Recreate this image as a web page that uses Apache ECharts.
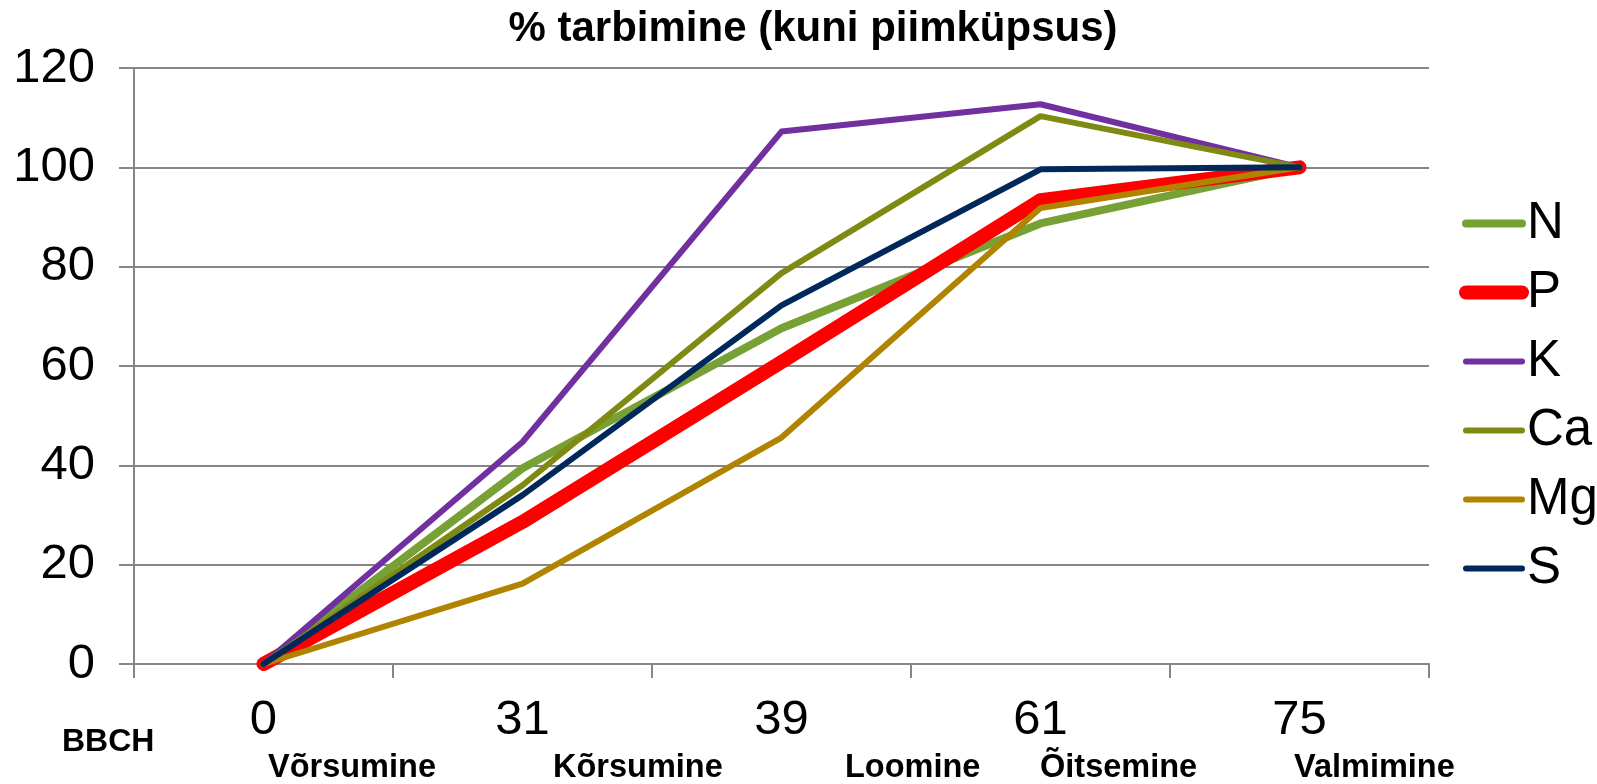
<!DOCTYPE html>
<html>
<head>
<meta charset="utf-8">
<script src="https://cdn.jsdelivr.net/npm/echarts@6/dist/echarts.min.js"></script>
<style>html,body{margin:0;padding:0;background:#fff}#c{width:1597px;height:784px}</style>
</head>
<body>
<div id="c"></div>
<script>
const titleText = '% tarbimine (kuni piimküpsus)';
const categories = ['0', '31', '39', '61', '75'];
const seriesNames = ['N', 'P', 'K', 'Ca', 'Mg', 'S'];
const valuesN  = [0, 39.4, 67.6, 88.7, 100];
const valuesP  = [0, 28.6, 60.8, 93.4, 100];
const valuesK  = [0, 44.7, 107.2, 112.7, 100];
const valuesCa = [0, 36.0, 78.7, 110.3, 100];
const valuesMg = [0, 16.2, 45.6, 91.8, 100];
const valuesS  = [0, 34.0, 72.2, 99.6, 100];
const stageLabel = 'BBCH';
const stageNames = ['Võrsumine', 'Kõrsumine', 'Loomine', 'Õitsemine', 'Valmimine'];

const FONT = "'Liberation Sans', Arial, sans-serif";
const colors = ['#77A135', '#FF0000', '#7030A0', '#7F8A12', '#B08400', '#00285A'];
const widths = [8, 14, 6, 6, 6, 6];
const allValues = [valuesN, valuesP, valuesK, valuesCa, valuesMg, valuesS];

const stageX = [268, 553, 845, 1040, 1294];

const chart = echarts.init(document.getElementById('c'));
chart.setOption({
  animation: false,
  backgroundColor: '#fff',
  title: {
    text: titleText,
    left: 813,
    textAlign: 'center',
    top: 8,
    padding: 0,
    textStyle: { fontFamily: FONT, fontSize: 42, fontWeight: 'bold', color: '#000' }
  },
  grid: { left: 134, right: 168, top: 68, bottom: 120, containLabel: false },
  legend: {
    orient: 'vertical',
    left: 1459,
    top: 198,
    padding: 0,
    itemGap: 18,
    itemWidth: 56,
    itemHeight: 14,
    itemStyle: { opacity: 0 },
    textStyle: { fontFamily: FONT, fontSize: 51, color: '#000' },
    data: seriesNames.map((n, i) => ({ name: n, itemStyle: { opacity: 0 }, lineStyle: { width: widths[i], cap: 'round' } }))
  },
  xAxis: {
    type: 'category',
    data: categories,
    boundaryGap: true,
    axisLine: { lineStyle: { color: '#868686', width: 2 } },
    axisTick: { show: true, length: 14, alignWithLabel: false, lineStyle: { color: '#868686', width: 2 } },
    axisLabel: { fontFamily: FONT, fontSize: 49, color: '#000', margin: 32 },
    splitLine: { show: false }
  },
  yAxis: {
    type: 'value',
    min: 0, max: 120, interval: 20,
    axisLine: { show: true, lineStyle: { color: '#868686', width: 2 } },
    axisTick: { show: true, length: 15, lineStyle: { color: '#868686', width: 2 } },
    axisLabel: { fontFamily: FONT, fontSize: 49, color: '#000', margin: 39 },
    splitLine: { show: true, lineStyle: { color: '#868686', width: 2 } }
  },
  series: seriesNames.map((n, i) => ({
    name: n,
    type: 'line',
    data: allValues[i],
    symbol: 'none',
    showSymbol: false,
    lineStyle: { color: colors[i], width: widths[i], cap: 'round', join: 'round' },
    itemStyle: { color: colors[i] }
  })),
  graphic: [
    { type: 'text', x: 62, y: 742, style: { text: stageLabel, font: "bold 32px 'Liberation Sans', Arial, sans-serif", fill: '#000', textAlign: 'left', textVerticalAlign: 'middle' } }
  ].concat(stageNames.map((s, i) => ({
    type: 'text', x: stageX[i], y: 768,
    style: { text: s, font: "bold 32.5px 'Liberation Sans', Arial, sans-serif", fill: '#000', textAlign: 'left', textVerticalAlign: 'middle' }
  })))
});
</script>
</body>
</html>
